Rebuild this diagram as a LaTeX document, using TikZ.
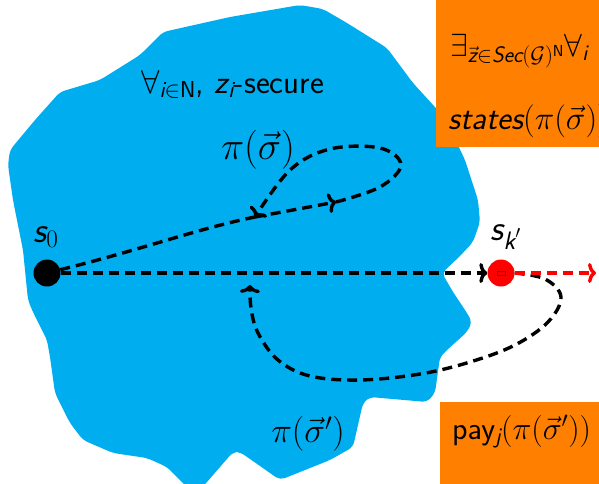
\RequirePackage{fix-cm}
\documentclass[tikz,border=0pt]{standalone}
\usepackage{amsmath}
\usetikzlibrary{arrows.meta}
\definecolor{blobcyan}{RGB}{0,174,239}
\definecolor{boxorange}{RGB}{255,128,0}
\newcommand\vi[1]{\text{\sffamily\itshape #1}}
\newcommand\up[1]{\text{\sffamily #1}}
\begin{document}
\begin{tikzpicture}[x=1pt,y=-1pt,
  trail/.style={line width=3.4pt, dash pattern=on 10pt off 6pt},
  tipped/.style={-{To[length=8pt,width=20pt]}},
  lbl/.style={inner sep=0pt, font=\sffamily\fontsize{33}{38}\selectfont},
  dot/.style={circle, inner sep=0pt, minimum size=27pt}]
\useasboundingbox (0,0) rectangle (599,483);
\clip (0,0) rectangle (599,483);
% blob
\fill[blobcyan, rounded corners=5pt] (300,5) -- (323,9) -- (347,23) -- (387,48) -- (413,83) -- (445,118) -- (465,160) -- (478,200) -- (480,222) -- (473,242) -- (460,256) -- (442,273) -- (453,292) -- (467,313) -- (472,322) -- (467,332) -- (447,350) -- (440,357) -- (435,393) -- (427,402) -- (370,397) -- (363,403) -- (353,447) -- (330,460) -- (280,480) -- (240,452) -- (233,452) -- (200,490) -- (190,490) -- (167,467) -- (147,458) -- (113,453) -- (83,440) -- (70,423) -- (55,393) -- (50,357) -- (47,340) -- (32,310) -- (28,300) -- (23,250) -- (13,200) -- (8,165) -- (10,150) -- (35,120) -- (60,92) -- (100,80) -- (140,55) -- (163,32) -- (230,17) -- cycle;
% labels in blob
\node[lbl, anchor=base west] (secure) at (141,93) {$\forall_{\vi{i}\in\up{N}}$, $\vi{z}_{\vi{i}}$-secure};
\node[lbl, font=\sffamily\fontsize{39}{44}\selectfont] (pilab) at (258,150) {$\pi(\vec{\sigma})$};
\node[lbl, font=\sffamily\fontsize{35}{40}\selectfont] (pilab2) at (308,434) {$\pi(\vec{\sigma}')$};
% states
\node[dot, fill=black] (s0) at (47,273) {};
\node[dot, fill=red] (sk) at (501,273) {};
\draw[red!60!black, line width=0.5pt] (497,271) rectangle (505,275);
\node[lbl, font=\sffamily\fontsize{36}{40}\selectfont] (s0lab) at (46,237) {$\vi{s}_0$};
\node[lbl, font=\sffamily\fontsize{36}{40}\selectfont] (sklab) at (506,237) {$\vi{s}_{\vi{k}'}$};
% coordinates
\coordinate (A) at (255,217);
\coordinate (B) at (336,202);
\coordinate (C) at (250,285);
\coordinate (R) at (596,273);
% paths
\draw[trail] (s0) .. controls (140,250) and (200,228) .. (A);
\draw[trail, tipped] (A) -- (B);
\draw[trail, tipped] plot[smooth, tension=0.6] coordinates {(B) (380,187) (401,165) (380,148) (330,149) (290,170) (A)};
\draw[trail, tipped] (s0) -- (sk);
\draw[trail, tipped] plot[smooth, tension=0.6] coordinates {(sk.east) (545,279) (561,297) (548,322) (515,345) (470,362) (420,374) (360,380) (310,376) (278,360) (258,333) (251,308) (C)};
\draw[trail, tipped, red] (sk) -- (R);
% orange boxes
\fill[boxorange] (436,-5) rectangle (610,147);
\node[lbl, anchor=base west, font=\sffamily\fontsize{32}{38}\selectfont] (exists) at (450,56) {$\exists_{\vec{\vi{z}}\in \vi{Sec}(\mathcal{G})^{\up{N}}}\forall_{\vi{i}}$};
\node[lbl, anchor=base west, font=\sffamily\fontsize{33}{38}\selectfont] (states) at (448,129) {\itshape states$(\pi(\vec{\sigma}))$};
\fill[boxorange] (440,402) rectangle (610,490);
\node[lbl, anchor=base west, font=\sffamily\fontsize{32}{36}\selectfont] (pay) at (452,439) {pay$_{\vi{j}}(\pi(\vec{\sigma}'))$};
\end{tikzpicture}
\end{document}
